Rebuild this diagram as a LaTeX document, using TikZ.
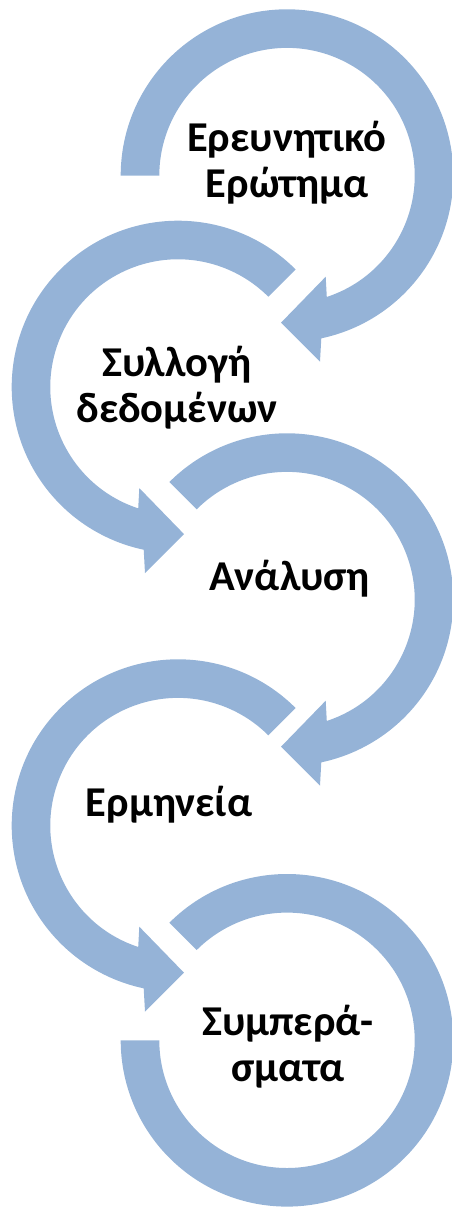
\documentclass[tikz,border=0pt]{standalone}
\usepackage{fontspec}
\setmainfont{Carlito}
\definecolor{ringblue}{RGB}{149,179,215}
\tikzset{
  ring/.style={fill=ringblue, draw=none},
  lbl/.style={font=\bfseries\fontsize{42.5}{46}\selectfont, align=center, inner sep=0pt, anchor=base}
}
\begin{document}
\begin{tikzpicture}[x=1pt,y=1pt]
\useasboundingbox (0,0) rectangle (452,-1208);
% circle 1
\begin{scope}[shift={(287,-175.6)}]
\fill[ring] (180:166.3) arc[start angle=180, end angle=-78.1, radius=166.3] -- (33,-186.1) -- (-6,-147.1) -- (38.7,-101.1) -- (-71.85:127.7) arc[start angle=-71.85, end angle=180, radius=127.7] -- cycle;
\end{scope}
% circle 2
\begin{scope}[shift={(178,-387)}, xscale=-1]
\fill[ring] (135:166.3) arc[start angle=135, end angle=-78.1, radius=166.3] -- (33,-186.1) -- (-6,-147.1) -- (38.7,-101.1) -- (-71.85:127.7) arc[start angle=-71.85, end angle=135, radius=127.7] -- cycle;
\end{scope}
% circle 3
\begin{scope}[shift={(287,-599.6)}]
\fill[ring] (135:166.3) arc[start angle=135, end angle=-78.1, radius=166.3] -- (33,-186.1) -- (-6,-147.1) -- (38.7,-101.1) -- (-71.85:127.7) arc[start angle=-71.85, end angle=135, radius=127.7] -- cycle;
\end{scope}
% circle 4
\begin{scope}[shift={(178,-825.6)}, xscale=-1]
\fill[ring] (135:166.3) arc[start angle=135, end angle=-78.1, radius=166.3] -- (33,-186.1) -- (-6,-147.1) -- (38.7,-101.1) -- (-71.85:127.7) arc[start angle=-71.85, end angle=135, radius=127.7] -- cycle;
\end{scope}
% circle 5
\begin{scope}[shift={(287,-1040.3)}]
\fill[ring] (135:166.3) arc[start angle=135, end angle=-180, radius=166.3] -- (-180:127.7) arc[start angle=-180, end angle=135, radius=127.7] -- cycle;
\end{scope}
\node[lbl] (t1) at (287,-197) {Ερευνητικό\\Ερώτημα};
\node[lbl] (t2) at (177,-422) {Συλλογή\\δεδομένων};
\node[lbl] (t3) at (289.5,-590) {Ανάλυση};
\node[lbl] (t4) at (169,-816.7) {Ερμηνεία};
\node[lbl] (t5) at (288,-1081.7) {Συμπερά-\\σματα};
\end{tikzpicture}
\end{document}
